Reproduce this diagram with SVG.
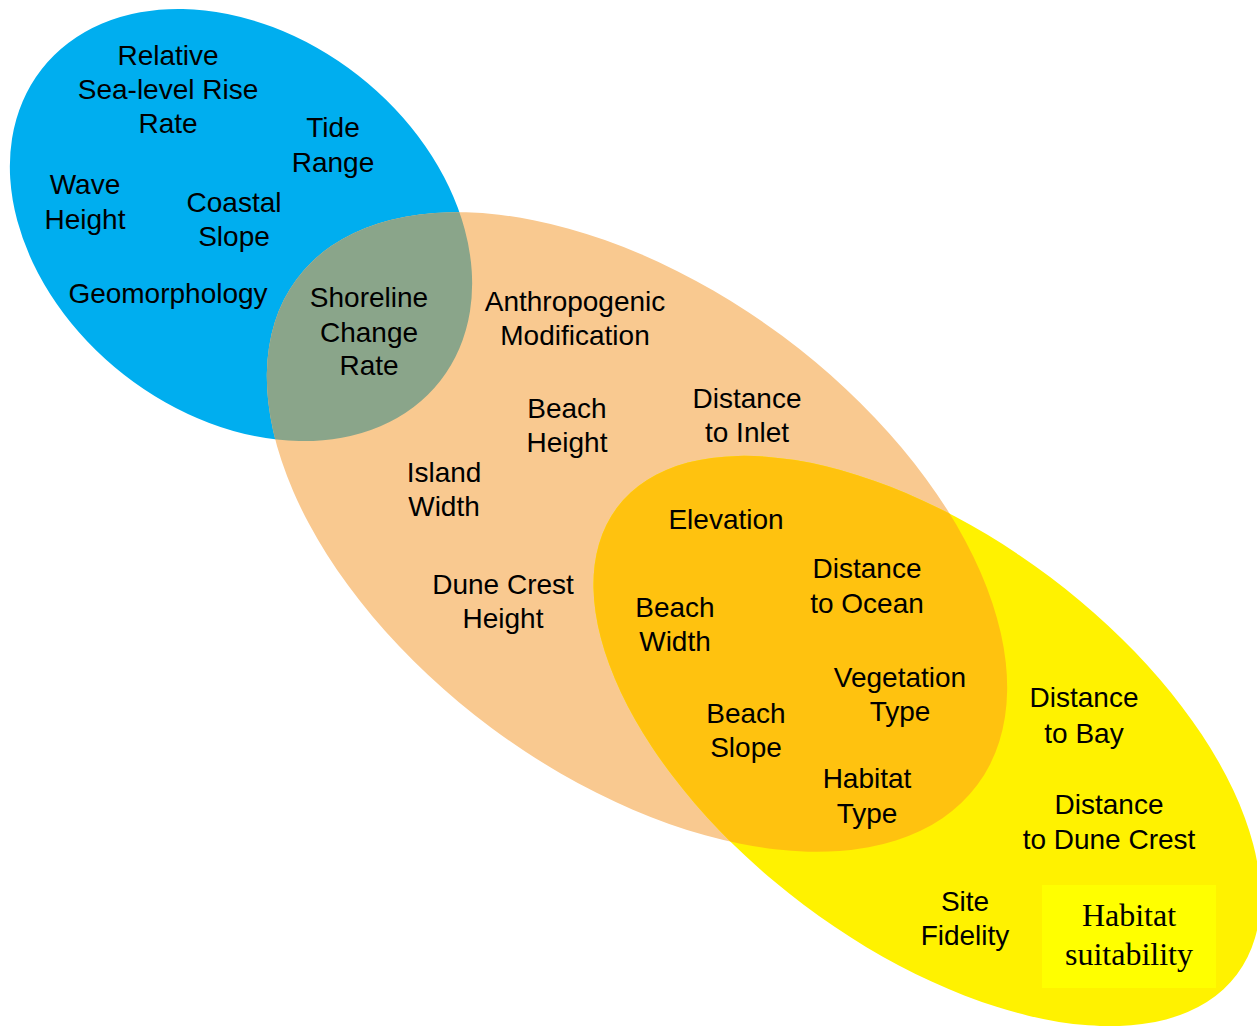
<svg xmlns="http://www.w3.org/2000/svg" width="1257" height="1026" viewBox="0 0 1257 1026">
<style>
.t{font-family:"Liberation Sans",Arial,sans-serif;font-size:28px;fill:#000;text-anchor:middle}
.s{font-family:"Liberation Serif","Times New Roman",serif;font-size:32px;fill:#000;text-anchor:middle}
</style>
<defs>
<ellipse id="eB" cx="241" cy="225" rx="253" ry="190" transform="rotate(38 241 225)"/>
<ellipse id="eO" cx="637" cy="532" rx="424" ry="244" transform="rotate(36.6 637 532)"/>
<ellipse id="eY" cx="927" cy="741" rx="388" ry="205" transform="rotate(37 927 741)"/>
<clipPath id="cB"><use href="#eB"/></clipPath>
<clipPath id="cO"><use href="#eO"/></clipPath>
</defs>
<rect width="1257" height="1026" fill="#fff"/>
<g id="blue"><use href="#eB" fill="#00AEEF"/></g>
<g id="orange"><use href="#eO" fill="#F9C990"/></g>
<g id="yellow"><use href="#eY" fill="#FFF200"/></g>
<g id="overlap-blue-orange" clip-path="url(#cB)"><use href="#eO" fill="#8AA58A"/></g>
<g id="overlap-orange-yellow" clip-path="url(#cO)"><use href="#eY" fill="#FFC20F"/></g>
<g id="box"><rect x="1042" y="885" width="174" height="103" fill="#FFFF00"/></g>
<g id="labels-blue">
<text class="t" x="168" y="65">Relative</text>
<text class="t" x="168" y="99">Sea-level Rise</text>
<text class="t" x="168" y="133">Rate</text>
<text class="t" x="333" y="137">Tide</text>
<text class="t" x="333" y="172">Range</text>
<text class="t" x="85" y="194">Wave</text>
<text class="t" x="85" y="229">Height</text>
<text class="t" x="234" y="212">Coastal</text>
<text class="t" x="234" y="246">Slope</text>
<text class="t" x="168" y="303">Geomorphology</text>
</g>
<g id="labels-overlap1">
<text class="t" x="369" y="307">Shoreline</text>
<text class="t" x="369" y="342">Change</text>
<text class="t" x="369" y="375">Rate</text>
</g>
<g id="labels-orange">
<text class="t" x="575" y="311">Anthropogenic</text>
<text class="t" x="575" y="345">Modification</text>
<text class="t" x="567" y="418">Beach</text>
<text class="t" x="567" y="452">Height</text>
<text class="t" x="747" y="408">Distance</text>
<text class="t" x="747" y="442">to Inlet</text>
<text class="t" x="444" y="482">Island</text>
<text class="t" x="444" y="516">Width</text>
<text class="t" x="503" y="594">Dune Crest</text>
<text class="t" x="503" y="628">Height</text>
</g>
<g id="labels-overlap2">
<text class="t" x="726" y="529">Elevation</text>
<text class="t" x="867" y="578">Distance</text>
<text class="t" x="867" y="613">to Ocean</text>
<text class="t" x="675" y="617">Beach</text>
<text class="t" x="675" y="651">Width</text>
<text class="t" x="900" y="687">Vegetation</text>
<text class="t" x="900" y="721">Type</text>
<text class="t" x="746" y="723">Beach</text>
<text class="t" x="746" y="757">Slope</text>
<text class="t" x="867" y="788">Habitat</text>
<text class="t" x="867" y="823">Type</text>
</g>
<g id="labels-yellow">
<text class="t" x="1084" y="707">Distance</text>
<text class="t" x="1084" y="743">to Bay</text>
<text class="t" x="1109" y="814">Distance</text>
<text class="t" x="1109" y="849">to Dune Crest</text>
<text class="t" x="965" y="911">Site</text>
<text class="t" x="965" y="945">Fidelity</text>
<text class="s" x="1129" y="926">Habitat</text>
<text class="s" x="1129" y="965">suitability</text>
</g>
</svg>
